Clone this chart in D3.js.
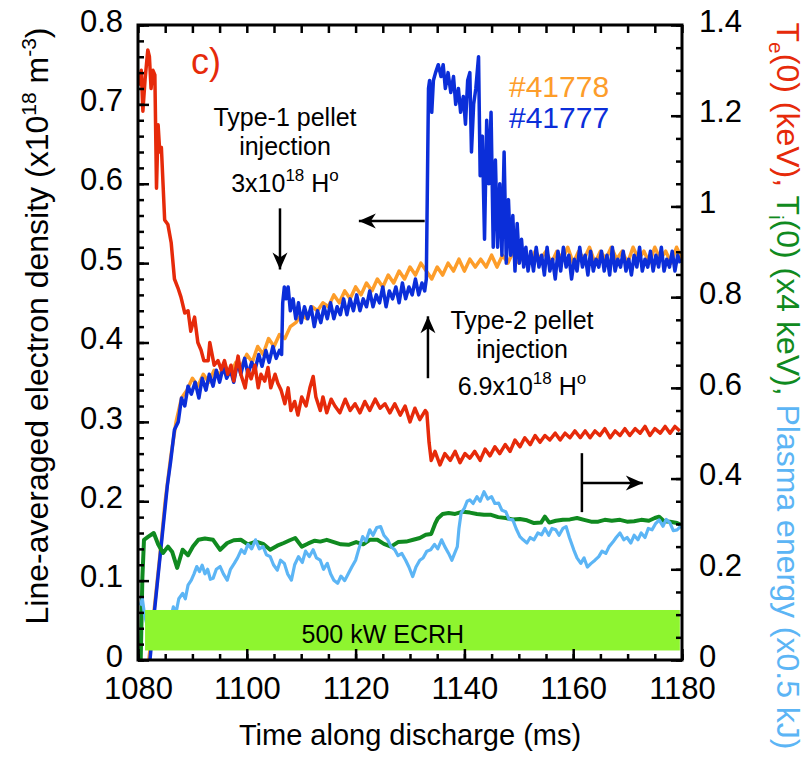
<!DOCTYPE html>
<html>
<head>
<meta charset="utf-8">
<script src="https://cdn.jsdelivr.net/npm/d3@7"></script>
<style>
body { margin: 0; background: #fff; }
text { font-family: "Liberation Sans", Arial, Helvetica, sans-serif; }
</style>
</head>
<body>
<div id="chart"></div>
<script>
// time axis (ms)
let xMajor = [1080, 1100, 1120, 1140, 1160, 1180]
let leftMajor = [0, 0.1, 0.2, 0.3, 0.4, 0.5, 0.6, 0.7, 0.8]
let leftLabels = ['0', '0.1', '0.2', '0.3', '0.4', '0.5', '0.6', '0.7', '0.8']
let rightMajor = [0, 0.2, 0.4, 0.6, 0.8, 1, 1.2, 1.4]
let rightLabels = ['0', '0.2', '0.4', '0.6', '0.8', '1', '1.2', '1.4']

// line-averaged density #41778 (x1e18 m^-3), [t, ne]
let ne41778 = [[1082.0,0],[1083.0,0.065],[1084.0,0.13],[1085.0,0.2],[1086.0,0.255],[1087.0,0.3],[1088.0,0.33],[1089.0,0.34],[1090.0,0.355],[1091.0,0.345],[1092.0,0.36],[1093.0,0.35],[1094.0,0.365],[1095.0,0.36],[1096.0,0.37],[1097.0,0.36],[1098.0,0.375],[1099.0,0.37],[1100.0,0.385],[1101.0,0.375],[1102.0,0.395],[1103.0,0.385],[1104.0,0.405],[1105.0,0.395],[1106.0,0.41],[1107.0,0.405],[1108.0,0.42],[1109.0,0.425],[1110.0,0.435],[1111.0,0.43],[1112.0,0.445],[1113.0,0.44],[1114.0,0.45],[1115.0,0.445],[1116.0,0.46],[1117.0,0.45],[1118.0,0.465],[1119.0,0.455],[1120.0,0.47],[1121.0,0.46],[1122.0,0.475],[1123.0,0.465],[1124.0,0.48],[1125.0,0.47],[1126.0,0.485],[1127.0,0.475],[1128.0,0.49],[1129.0,0.48],[1130.0,0.495],[1131.0,0.485],[1132.0,0.5],[1133.0,0.49],[1134.0,0.48],[1135.0,0.495],[1136.0,0.485],[1137.0,0.5],[1138.0,0.49],[1139.0,0.505],[1140.0,0.49],[1141.0,0.505],[1142.0,0.495],[1143.0,0.505],[1144.0,0.495],[1145.0,0.51],[1146.0,0.495],[1147.0,0.51],[1148.0,0.5],[1149.0,0.515],[1150.0,0.5],[1151.0,0.515],[1152.0,0.5],[1153.0,0.515],[1154.0,0.505],[1155.0,0.515],[1156.0,0.5],[1157.0,0.515],[1158.0,0.505],[1159.0,0.52],[1160.0,0.5],[1161.0,0.515],[1162.0,0.505],[1163.0,0.52],[1164.0,0.5],[1165.0,0.515],[1166.0,0.505],[1167.0,0.52],[1168.0,0.505],[1169.0,0.515],[1170.0,0.5],[1171.0,0.52],[1172.0,0.505],[1173.0,0.515],[1174.0,0.5],[1175.0,0.52],[1176.0,0.505],[1177.0,0.515],[1178.0,0.5],[1179.0,0.52],[1180.0,0.505]]

// line-averaged density #41777
let ne41777 = [[1082.2,0],[1083.0,0.06],[1083.6,0.1],[1084.2,0.14],[1084.8,0.18],[1085.4,0.22],[1086.0,0.25],[1086.7,0.29],[1087.4,0.3],[1088.0,0.33],[1088.6,0.32],[1089.2,0.345],[1089.8,0.335],[1090.5,0.35],[1091.2,0.33],[1091.8,0.355],[1092.5,0.34],[1093.1,0.36],[1093.8,0.345],[1094.4,0.365],[1095.0,0.35],[1095.7,0.37],[1096.3,0.355],[1097.0,0.365],[1097.6,0.35],[1098.3,0.375],[1098.9,0.36],[1099.6,0.38],[1100.2,0.36],[1100.9,0.375],[1101.5,0.365],[1102.2,0.385],[1102.8,0.37],[1103.5,0.39],[1104.1,0.375],[1104.8,0.395],[1105.4,0.38],[1106.0,0.39],[1106.4,0.385],[1106.6,0.45],[1106.9,0.47],[1107.2,0.455],[1107.6,0.47],[1108.0,0.44],[1108.5,0.455],[1109.0,0.43],[1109.5,0.45],[1110.0,0.425],[1110.6,0.445],[1111.2,0.43],[1111.8,0.445],[1112.4,0.42],[1113.0,0.44],[1113.6,0.425],[1114.2,0.445],[1114.8,0.43],[1115.4,0.45],[1116.0,0.43],[1116.6,0.445],[1117.2,0.435],[1117.8,0.455],[1118.4,0.435],[1119.0,0.455],[1119.6,0.44],[1120.2,0.46],[1120.8,0.44],[1121.4,0.455],[1122.0,0.445],[1122.6,0.465],[1123.2,0.445],[1123.8,0.46],[1124.4,0.45],[1125.0,0.47],[1125.6,0.445],[1126.2,0.465],[1126.8,0.455],[1127.4,0.47],[1128.0,0.45],[1128.6,0.475],[1129.2,0.455],[1129.8,0.47],[1130.4,0.46],[1131.0,0.48],[1131.6,0.46],[1132.2,0.475],[1132.7,0.465],[1133.0,0.48],[1133.2,0.6],[1133.4,0.72],[1133.6,0.73],[1134.0,0.69],[1134.3,0.73],[1134.7,0.74],[1135.2,0.75],[1135.7,0.735],[1136.1,0.75],[1136.5,0.72],[1137.0,0.74],[1137.5,0.715],[1138.0,0.735],[1138.4,0.7],[1138.9,0.72],[1139.3,0.69],[1139.8,0.71],[1140.2,0.675],[1140.6,0.73],[1141.0,0.74],[1141.3,0.64],[1141.7,0.7],[1142.1,0.72],[1142.6,0.76],[1142.9,0.61],[1143.3,0.66],[1143.7,0.53],[1144.1,0.68],[1144.5,0.6],[1144.9,0.69],[1145.3,0.52],[1145.7,0.63],[1146.1,0.52],[1146.5,0.6],[1146.9,0.51],[1147.3,0.64],[1147.7,0.5],[1148.1,0.58],[1148.5,0.51],[1148.9,0.56],[1149.3,0.49],[1149.7,0.55],[1150.1,0.5],[1150.5,0.53],[1150.9,0.495],[1151.3,0.52],[1151.7,0.49],[1152.2,0.515],[1152.7,0.49],[1153.2,0.52],[1153.7,0.495],[1154.2,0.51],[1154.7,0.485],[1155.2,0.52],[1155.7,0.49],[1156.2,0.505],[1156.7,0.48],[1157.2,0.515],[1157.7,0.49],[1158.2,0.52],[1158.7,0.495],[1159.2,0.51],[1159.7,0.48],[1160.2,0.505],[1160.7,0.49],[1161.2,0.52],[1161.7,0.495],[1162.2,0.51],[1162.7,0.485],[1163.2,0.515],[1163.7,0.49],[1164.2,0.505],[1164.7,0.495],[1165.2,0.515],[1165.7,0.49],[1166.2,0.51],[1166.7,0.485],[1167.2,0.52],[1167.7,0.49],[1168.2,0.505],[1168.7,0.495],[1169.2,0.515],[1169.7,0.49],[1170.2,0.505],[1170.7,0.485],[1171.2,0.51],[1171.7,0.495],[1172.2,0.52],[1172.7,0.49],[1173.2,0.505],[1173.7,0.495],[1174.2,0.515],[1174.7,0.49],[1175.2,0.51],[1175.7,0.495],[1176.2,0.52],[1176.7,0.49],[1177.2,0.505],[1177.7,0.495],[1178.2,0.515],[1178.7,0.49],[1179.2,0.51],[1179.7,0.5]]

// Te(0) in keV (right axis)
let te = [[1080.0,1.29],[1080.3,1.27],[1080.6,1.3],[1080.9,1.21],[1081.3,1.28],[1081.8,1.345],[1082.1,1.33],[1082.4,1.26],[1082.75,1.3],[1083.1,1.29],[1083.4,1.04],[1083.7,1.18],[1084.0,1.12],[1084.3,1.13],[1084.9,0.97],[1085.5,0.96],[1086.1,0.92],[1086.7,0.84],[1087.35,0.82],[1087.9,0.8],[1088.6,0.765],[1089.2,0.77],[1089.7,0.725],[1090.4,0.756],[1091.0,0.7],[1091.6,0.683],[1092.1,0.66],[1092.9,0.66],[1093.2,0.7],[1094.0,0.65],[1094.7,0.66],[1095.3,0.64],[1095.9,0.66],[1096.5,0.63],[1097.1,0.65],[1097.6,0.615],[1098.4,0.67],[1098.9,0.63],[1099.7,0.6],[1100.2,0.64],[1100.8,0.62],[1101.5,0.65],[1102.1,0.6],[1102.6,0.63],[1103.3,0.615],[1103.9,0.645],[1104.4,0.6],[1105.2,0.63],[1105.7,0.61],[1106.3,0.595],[1107.0,0.565],[1107.6,0.6],[1108.1,0.55],[1108.8,0.57],[1109.4,0.54],[1110.1,0.58],[1110.9,0.56],[1111.6,0.6],[1112.2,0.625],[1112.7,0.58],[1113.5,0.55],[1114.0,0.58],[1114.7,0.545],[1115.5,0.575],[1116.2,0.56],[1117.1,0.545],[1118.1,0.575],[1119.0,0.55],[1119.9,0.565],[1120.8,0.545],[1121.7,0.57],[1122.6,0.55],[1123.6,0.575],[1124.5,0.555],[1125.4,0.565],[1126.3,0.545],[1127.2,0.565],[1128.2,0.54],[1129.1,0.56],[1130.0,0.525],[1130.9,0.555],[1131.8,0.53],[1132.8,0.55],[1133.1,0.545],[1133.5,0.48],[1133.9,0.44],[1134.6,0.46],[1135.5,0.43],[1136.4,0.455],[1137.4,0.44],[1138.3,0.46],[1139.2,0.435],[1140.1,0.455],[1141.0,0.445],[1141.9,0.46],[1142.9,0.44],[1143.8,0.465],[1144.7,0.45],[1145.6,0.47],[1146.5,0.455],[1147.5,0.475],[1148.4,0.46],[1149.3,0.485],[1150.2,0.47],[1151.1,0.49],[1152.1,0.475],[1153.0,0.495],[1153.9,0.48],[1154.8,0.495],[1155.7,0.485],[1156.7,0.5],[1157.6,0.485],[1158.5,0.5],[1159.4,0.49],[1160.3,0.505],[1161.3,0.49],[1162.2,0.505],[1163.1,0.49],[1164.0,0.505],[1164.9,0.495],[1165.8,0.51],[1166.8,0.49],[1167.7,0.505],[1168.6,0.495],[1169.5,0.51],[1170.4,0.495],[1171.4,0.51],[1172.3,0.5],[1173.2,0.515],[1174.1,0.495],[1175.0,0.51],[1176.0,0.5],[1176.9,0.515],[1177.8,0.5],[1178.7,0.515],[1179.6,0.505]]

// Ti(0) (x4 keV)
let ti = [[1080.5,0],[1080.8,0.18],[1081.1,0.265],[1081.9,0.272],[1082.9,0.28],[1083.7,0.255],[1084.6,0.236],[1085.5,0.25],[1086.3,0.238],[1087.2,0.203],[1088.2,0.243],[1089.2,0.231],[1090.1,0.25],[1091.1,0.265],[1092.3,0.268],[1093.8,0.265],[1095.1,0.243],[1096.4,0.258],[1097.6,0.264],[1098.9,0.265],[1100.2,0.255],[1101.7,0.261],[1103.0,0.256],[1104.3,0.243],[1105.6,0.252],[1106.8,0.258],[1107.9,0.264],[1108.9,0.269],[1110.1,0.25],[1111.3,0.257],[1112.5,0.263],[1113.5,0.261],[1114.7,0.265],[1116.0,0.26],[1117.3,0.255],[1118.7,0.254],[1120.1,0.26],[1121.4,0.255],[1122.6,0.265],[1124.0,0.265],[1125.2,0.256],[1126.5,0.25],[1127.8,0.26],[1129.3,0.261],[1130.6,0.265],[1131.8,0.269],[1132.9,0.276],[1133.9,0.278],[1134.6,0.3],[1135.1,0.312],[1136.0,0.322],[1137.1,0.324],[1138.3,0.322],[1139.7,0.327],[1141.0,0.325],[1142.3,0.322],[1143.6,0.32],[1144.9,0.32],[1146.2,0.315],[1147.6,0.313],[1148.9,0.31],[1150.2,0.311],[1151.5,0.308],[1152.8,0.302],[1154.1,0.303],[1154.8,0.316],[1155.6,0.303],[1156.8,0.307],[1158.1,0.309],[1159.4,0.31],[1160.7,0.313],[1162.0,0.309],[1163.3,0.305],[1164.6,0.305],[1165.8,0.309],[1167.1,0.307],[1168.6,0.309],[1169.9,0.305],[1171.2,0.306],[1172.5,0.309],[1173.9,0.307],[1175.0,0.313],[1175.8,0.316],[1176.7,0.306],[1177.8,0.305],[1179.1,0.302],[1179.8,0.298]]

// plasma energy (x0.5 kJ)
let wp = [[1080.4,0.12],[1080.8,0.135],[1081.2,0.1],[1081.8,0.07],[1082.5,0.05],[1083.5,0.04],[1084.5,0.05],[1085.5,0.075],[1086.0,0.09],[1086.5,0.117],[1087.0,0.105],[1087.5,0.135],[1088.2,0.147],[1088.7,0.135],[1089.2,0.165],[1089.8,0.176],[1090.3,0.19],[1090.8,0.206],[1091.3,0.195],[1091.8,0.209],[1092.3,0.19],[1092.8,0.2],[1093.3,0.178],[1093.8,0.18],[1094.4,0.2],[1095.1,0.206],[1095.7,0.19],[1096.4,0.176],[1097.0,0.2],[1097.7,0.213],[1098.3,0.225],[1099.0,0.243],[1099.6,0.235],[1100.2,0.255],[1100.9,0.245],[1101.6,0.265],[1102.3,0.245],[1103.0,0.25],[1103.6,0.232],[1104.3,0.228],[1104.9,0.21],[1105.6,0.198],[1106.2,0.22],[1106.9,0.213],[1107.5,0.19],[1108.2,0.176],[1108.8,0.21],[1109.5,0.228],[1110.2,0.215],[1110.8,0.24],[1111.5,0.228],[1112.2,0.243],[1112.8,0.225],[1113.5,0.22],[1114.1,0.2],[1114.8,0.213],[1115.4,0.19],[1116.0,0.176],[1116.7,0.169],[1117.3,0.185],[1118.0,0.175],[1118.7,0.191],[1119.3,0.205],[1120.0,0.22],[1120.6,0.245],[1121.3,0.272],[1121.9,0.262],[1122.6,0.287],[1123.2,0.275],[1123.9,0.292],[1124.6,0.294],[1125.2,0.275],[1125.9,0.265],[1126.5,0.25],[1127.2,0.243],[1127.8,0.23],[1128.5,0.235],[1129.2,0.22],[1129.8,0.205],[1130.5,0.184],[1131.1,0.205],[1131.8,0.22],[1132.4,0.225],[1133.1,0.24],[1133.8,0.243],[1134.5,0.255],[1135.1,0.245],[1135.8,0.265],[1136.4,0.25],[1137.1,0.235],[1137.7,0.22],[1138.2,0.235],[1138.7,0.25],[1139.0,0.29],[1139.4,0.324],[1140.0,0.335],[1140.5,0.35],[1141.0,0.353],[1141.6,0.345],[1142.3,0.36],[1142.9,0.35],[1143.6,0.371],[1144.3,0.355],[1145.0,0.36],[1145.6,0.345],[1146.3,0.346],[1146.9,0.33],[1147.6,0.327],[1148.2,0.31],[1148.9,0.309],[1149.5,0.29],[1150.2,0.272],[1150.8,0.265],[1151.5,0.258],[1152.1,0.27],[1152.8,0.265],[1153.5,0.28],[1154.2,0.276],[1154.8,0.29],[1155.5,0.275],[1156.1,0.29],[1156.8,0.287],[1157.4,0.275],[1158.1,0.29],[1158.7,0.294],[1159.3,0.27],[1160.1,0.243],[1160.7,0.225],[1161.4,0.213],[1162.0,0.225],[1162.6,0.205],[1163.3,0.213],[1164.0,0.22],[1164.7,0.228],[1165.3,0.24],[1166.0,0.235],[1166.6,0.25],[1167.3,0.26],[1167.9,0.27],[1168.6,0.28],[1169.3,0.265],[1169.9,0.27],[1170.6,0.258],[1171.2,0.275],[1171.9,0.265],[1172.5,0.28],[1173.2,0.27],[1173.8,0.29],[1174.5,0.287],[1175.1,0.3],[1175.8,0.309],[1176.5,0.295],[1177.1,0.31],[1177.8,0.302],[1178.4,0.285],[1179.1,0.287],[1179.8,0.295]]

// ECRH window [t0, t1] and its band on the density axis
let ecrh = [1081.3, 1179.6]
let ecrhBand = [0.012, 0.063]

let width = 806, height = 760
let mLeft = 138, mRight = 682, mTop = 25, mBottom = 660

let svg = d3.select('#chart')
.append('svg')
.attr('width', width)
.attr('height', height)

let x = d3.scaleLinear().domain([1080, 1180]).range([mLeft, mRight])
let yL = d3.scaleLinear().domain([0, 0.8]).range([mBottom, mTop])
let yR = d3.scaleLinear().domain([0, 1.4]).range([mBottom, mTop])

svg.append('clipPath').attr('id', 'clip')
.append('rect')
.attr('x', mLeft).attr('y', mTop)
.attr('width', mRight - mLeft).attr('height', mBottom - mTop)

let plot = svg.append('g').attr('clip-path', 'url(#clip)')

function drawLine(data, y, color, w) {
	plot.append('path')
	.datum(data)
	.attr('fill', 'none')
	.attr('stroke', color)
	.attr('stroke-width', w)
	.attr('stroke-linejoin', 'round')
	.attr('d', d3.line().x(d => x(d[0])).y(d => y(d[1])))
}

drawLine(ne41778, yL, '#fd9d2a', 3.5)
drawLine(ne41777, yL, '#0b2ed9', 3.5)
drawLine(te, yR, '#e62a0a', 3.5)
drawLine(ti, yR, '#108a20', 4)
drawLine(wp, yR, '#5cb5f5', 3.2)

// ECRH bar sits above the traces
plot.append('rect')
.attr('x', x(ecrh[0]))
.attr('y', yL(ecrhBand[1]))
.attr('width', x(ecrh[1]) - x(ecrh[0]))
.attr('height', yL(ecrhBand[0]) - yL(ecrhBand[1]))
.attr('fill', '#8ef52f')

svg.append('text')
.attr('x', x(1125)).attr('y', 643)
.attr('text-anchor', 'middle')
.style('font-size', '25px')
.text('500 kW ECRH')

// axes, ticks point inward
function styleAxis(g, fs) {
	g.select('.domain').remove()
	g.selectAll('line').attr('stroke', '#000').attr('stroke-width', 2.5)
	g.selectAll('text').attr('fill', '#000').style('font-size', fs)
	return g
}

let xMinor = d3.range(1080, 1181, 5)

styleAxis(svg.append('g').attr('transform', `translate(0,${mBottom})`)
	.call(d3.axisBottom(x).tickValues(xMinor).tickSize(-6).tickFormat('')), '0')
styleAxis(svg.append('g').attr('transform', `translate(0,${mBottom})`)
	.call(d3.axisBottom(x).tickValues(xMajor).tickSize(-11).tickPadding(17).tickFormat(d => d)), '31px')
styleAxis(svg.append('g').attr('transform', `translate(0,${mTop})`)
	.call(d3.axisTop(x).tickValues(xMinor).tickSize(-8).tickFormat('')), '0')

styleAxis(svg.append('g').attr('transform', `translate(${mLeft},0)`)
	.call(d3.axisLeft(yL).tickValues(d3.range(0, 0.801, 0.02)).tickSize(-6).tickFormat('')), '0')
let la = styleAxis(svg.append('g').attr('transform', `translate(${mLeft},0)`)
	.call(d3.axisLeft(yL).tickValues(leftMajor).tickSize(-11).tickPadding(15).tickFormat((d, i) => leftLabels[i])), '31px')
la.selectAll('text').attr('dy', '0.2em')

styleAxis(svg.append('g').attr('transform', `translate(${mRight},0)`)
	.call(d3.axisRight(yR).tickValues(d3.range(0, 1.401, 0.05)).tickSize(-6).tickFormat('')), '0')
let ra = styleAxis(svg.append('g').attr('transform', `translate(${mRight},0)`)
	.call(d3.axisRight(yR).tickValues(rightMajor).tickSize(-11).tickPadding(17).tickFormat((d, i) => rightLabels[i])), '31px')
ra.selectAll('text').attr('dy', '0.2em')

svg.append('rect')
.attr('x', mLeft).attr('y', mTop)
.attr('width', mRight - mLeft).attr('height', mBottom - mTop)
.attr('fill', 'none')
.attr('stroke', '#000')
.attr('stroke-width', 3)

// axis titles
svg.append('text')
.attr('x', 410).attr('y', 745)
.attr('text-anchor', 'middle')
.style('font-size', '29px')
.text('Time along discharge (ms)')

let lt = svg.append('text')
.attr('transform', 'translate(48,326) rotate(-90)')
.attr('text-anchor', 'middle')
.style('font-size', '32px')
lt.append('tspan').text('Line-averaged electron density (x10')
lt.append('tspan').attr('dy', -12).style('font-size', '21px').text('18')
lt.append('tspan').attr('dy', 12).text(' m')
lt.append('tspan').attr('dy', -12).style('font-size', '21px').text('-3')
lt.append('tspan').attr('dy', 12).text(')')

let rt = svg.append('text')
.attr('transform', 'translate(777,386) rotate(90)')
.attr('text-anchor', 'middle')
.style('font-size', '32px')
rt.append('tspan').attr('fill', '#e62a0a').text('T')
rt.append('tspan').attr('fill', '#e62a0a').attr('dy', 8).style('font-size', '21px').text('e')
rt.append('tspan').attr('fill', '#e62a0a').attr('dy', -8).text('(0) (keV),')
rt.append('tspan').attr('fill', '#108a20').text(' T')
rt.append('tspan').attr('fill', '#108a20').attr('dy', 8).style('font-size', '21px').text('i')
rt.append('tspan').attr('fill', '#108a20').attr('dy', -8).text('(0) (x4 keV),')
rt.append('tspan').attr('fill', '#5cb5f5').text(' Plasma energy (x0.5 kJ)')

// panel tag and shot legend
svg.append('text').attr('x', 191).attr('y', 74)
.attr('fill', '#e62a0a').style('font-size', '36px').text('c)')
svg.append('text').attr('x', 509).attr('y', 97)
.attr('fill', '#fd9d2a').style('font-size', '30px').text('#41778')
svg.append('text').attr('x', 509).attr('y', 128)
.attr('fill', '#0b2ed9').style('font-size', '30px').text('#41777')

// annotations
function note(cx, ys, amount) {
	let g = svg.append('g').style('font-size', '25px')
	g.append('text').attr('x', cx).attr('y', ys[0]).attr('text-anchor', 'middle').text(amount[0])
	g.append('text').attr('x', cx).attr('y', ys[1]).attr('text-anchor', 'middle').text('injection')
	let t = g.append('text').attr('x', cx).attr('y', ys[2]).attr('text-anchor', 'middle')
	t.append('tspan').text(amount[1])
	t.append('tspan').attr('dy', -11).style('font-size', '17px').text('18')
	t.append('tspan').attr('dy', 11).text(' H')
	t.append('tspan').attr('dy', -11).style('font-size', '17px').text('o')
}
note(285, [126, 155, 192], ['Type-1 pellet', '3x10'])
note(522, [329, 358, 395], ['Type-2 pellet', '6.9x10'])

function arrow(x1, y1, x2, y2) {
	svg.append('line')
	.attr('x1', x1).attr('y1', y1).attr('x2', x2).attr('y2', y2)
	.attr('stroke', '#000').attr('stroke-width', 2.5)
	let a = Math.atan2(y2 - y1, x2 - x1) * 180 / Math.PI
	svg.append('path')
	.attr('d', 'M0,0L-17,-7.5L-12,0L-17,7.5Z')
	.attr('transform', `translate(${x2},${y2}) rotate(${a})`)
	.attr('fill', '#000')
}
arrow(x(1106.1), yL(0.569), x(1106.1), yL(0.492))
arrow(x(1132.7), yL(0.553), x(1120.6), yL(0.553))
arrow(x(1133.3), yL(0.355), x(1133.3), yL(0.433))

svg.append('line')
.attr('x1', x(1161.6)).attr('x2', x(1161.6))
.attr('y1', yR(0.456)).attr('y2', yR(0.326))
.attr('stroke', '#000').attr('stroke-width', 2.5)
arrow(x(1161.6), yR(0.39), x(1172.8), yR(0.39))
</script>
</body>
</html>
